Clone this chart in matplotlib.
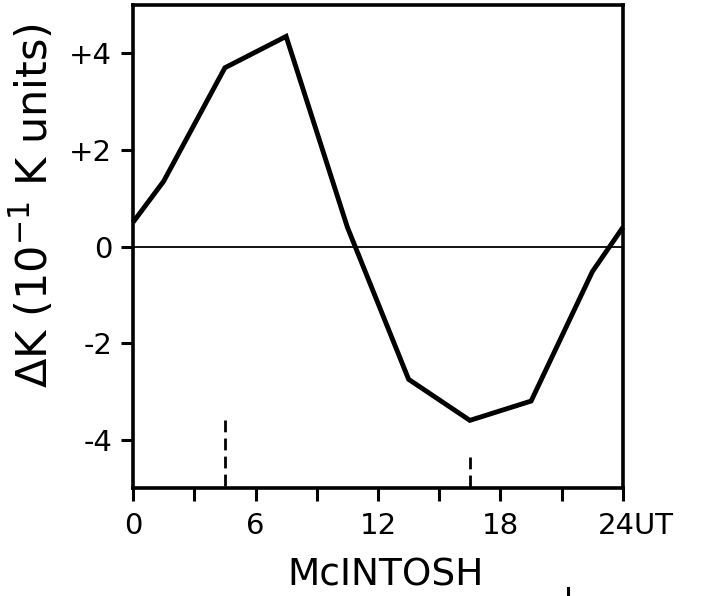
import matplotlib
matplotlib.use("Agg")
import matplotlib.pyplot as plt
import matplotlib.transforms as mtransforms
from matplotlib.lines import Line2D

# Diurnal variation of the K-index deviation (McIntosh)
hours = [0, 1.5, 4.5, 7.5, 10.5, 13.5, 16.5, 19.5, 22.5, 24]
delta_k = [0.5, 1.35, 3.7, 4.35, 0.4, -2.75, -3.6, -3.2, -0.52, 0.4]

# Dashed markers rising from the bottom axis: (hour, top value)
marker_hours = [4.5, 16.5]
marker_tops = [-3.6, -4.35]

x_major = [0, 6, 12, 18, 24]
x_labels = ["0", "6", "12", "18", "24UT"]
x_minor = [3, 9, 15, 21]
y_ticks = [4, 2, 0, -2, -4]
y_labels = ["+4", "+2", "0", "-2", "-4"]

plt.rcParams["font.family"] = ["DejaVu Sans"]
plt.rcParams["lines.scale_dashes"] = False

W, H = 708, 596
fig = plt.figure(figsize=(W / 100, H / 100), dpi=100)
ax = fig.add_axes([133 / W, 1 - 488 / H, (623 - 133) / W, (488 - 5) / H])

ax.plot(hours, delta_k, color="black", lw=3.5, solid_joinstyle="miter",
        solid_capstyle="butt", clip_on=False, zorder=3)
ax.axhline(0, color="black", lw=1.3, zorder=2)

for h, top in zip(marker_hours, marker_tops):
    ax.plot([h, h], [top, -5], color="black", lw=2.0,
            dashes=(8.5, 4.5), zorder=2)

ax.set_xlim(0, 24)
ax.set_ylim(-5, 5)

ax.set_xticks(x_major)
ax.set_xticklabels(x_labels)
ax.set_xticks(x_minor, minor=True)
ax.set_yticks(y_ticks)
ax.set_yticklabels(y_labels)

ax.tick_params(axis="both", which="both", direction="out", width=2.2,
               length=9, color="black", labelsize=21)
ax.tick_params(axis="x", which="both", top=False, pad=8)
ax.tick_params(axis="y", which="both", right=False, pad=6)

for sp in ax.spines.values():
    sp.set_linewidth(2.6)

# shift "24UT" so the digits sit on the last tick
lbl = ax.get_xticklabels()[-1]
lbl.set_horizontalalignment("left")
lbl.set_transform(lbl.get_transform()
                  + mtransforms.ScaledTranslation(-25 / 100, 0, fig.dpi_scale_trans))

fig.text(386 / W, 1 - 575 / H, "McINTOSH", ha="center", va="center",
         fontsize=27)
fig.text(33 / W, 1 - 205 / H, r"$\Delta$K (10$^{-1}$ K units)",
         rotation=90, ha="center", va="center", fontsize=31)

fig.add_artist(Line2D([568 / W, 568 / W], [0, 8 / H], color="black", lw=2.2,
                      transform=fig.transFigure))

fig.savefig("out.png", dpi=100)
